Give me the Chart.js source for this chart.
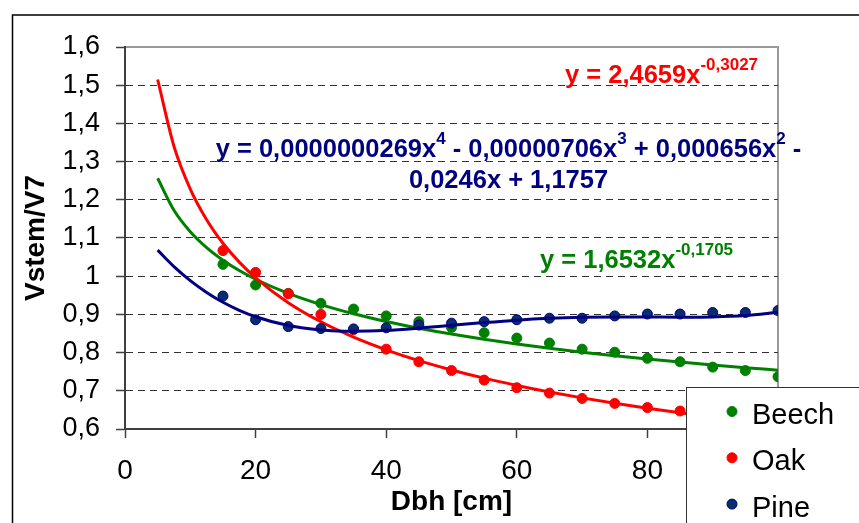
<!DOCTYPE html>
<html>
<head>
<meta charset="utf-8">
<title>Vstem/V7</title>
<script src="https://cdn.jsdelivr.net/npm/chart.js@4.4.0/dist/chart.umd.min.js"></script>
<style>
  body { margin: 0; background: #fff; }
  #grafico { display: block; }
</style>
</head>
<body>
<canvas id="grafico" width="859" height="523"></canvas>
<script>
// Dados medidos (Dbh em cm)
const dbh = [15, 20, 25, 30, 35, 40, 45, 50, 55, 60, 65, 70, 75, 80, 85, 90, 95, 100];
const beech = [1.031, 0.977, 0.955, 0.929, 0.914, 0.896, 0.881, 0.866, 0.852, 0.838, 0.825, 0.809, 0.801, 0.785, 0.776, 0.762, 0.753, 0.737];
const oak = [1.067, 1.010, 0.954, 0.900, 0.860, 0.809, 0.776, 0.753, 0.728, 0.708, 0.694, 0.680, 0.667, 0.656, 0.647, 0.638, 0.630, 0.622];
const pine = [0.948, 0.886, 0.868, 0.863, 0.862, 0.865, 0.872, 0.877, 0.881, 0.886, 0.890, 0.890, 0.896, 0.901, 0.901, 0.905, 0.905, 0.910];

// Linhas de tendencia
const dbhTend = [5, 7.5, 10, 12.5, 15, 17.5, 20, 25, 30, 35, 40, 45, 50, 55, 60, 65, 70, 75, 80, 85, 90, 95, 100];
const beechTend = [1.2565, 1.1726, 1.1164, 1.0748, 1.0419, 1.0148, 0.9920, 0.9549, 0.9257, 0.9017, 0.8814, 0.8639, 0.8485, 0.8348, 0.8225, 0.8114, 0.8012, 0.7918, 0.7831, 0.7751, 0.7676, 0.7605, 0.7539];
const oakTend = [1.5149, 1.3400, 1.2282, 1.1480, 1.0863, 1.0368, 0.9958, 0.9307, 0.8807, 0.8406, 0.8073, 0.7790, 0.7546, 0.7331, 0.7141, 0.6970, 0.6815, 0.6674, 0.6545, 0.6426, 0.6316, 0.6213, 0.6118];
const pineTend = [1.0682, 1.0252, 0.9885, 0.9576, 0.9318, 0.9108, 0.8939, 0.8709, 0.8593, 0.8560, 0.8583, 0.8641, 0.8713, 0.8786, 0.8850, 0.8896, 0.8924, 0.8934, 0.8932, 0.8928, 0.8935, 0.8971, 0.9057];

const xTicks = [0, 20, 40, 60, 80, 100];
const yTicks = [0.6, 0.7, 0.8, 0.9, 1.0, 1.1, 1.2, 1.3, 1.4, 1.5, 1.6];

const FONTE = "'Liberation Sans', Arial, sans-serif";
const VERDE = '#008000';
const VERMELHO = '#ff0000';
const AZUL = '#000080';

function pares(xs, ys) {
    return xs.map((x, i) => ({ x: x, y: ys[i] }));
}

function pontos(label, ys, cor, borda, ordem) {
    return {
        label: label,
        data: pares(dbh, ys),
        showLine: false,
        pointRadius: 5,
        pointBorderWidth: 1,
        pointBackgroundColor: cor,
        pointBorderColor: borda,
        order: ordem
    };
}

function tendencia(ys, cor, ordem) {
    return {
        data: pares(dbhTend, ys),
        showLine: true,
        borderColor: cor,
        borderWidth: 3,
        pointRadius: 0,
        cubicInterpolationMode: 'monotone',
        order: ordem
    };
}

// texto com expoentes
function escreve(ctx, partes, x, y, cor, centro) {
    let largura = 0;
    partes.forEach(p => {
        ctx.font = p[1] ? 'bold 17px ' + FONTE : 'bold 25.5px ' + FONTE;
        largura += ctx.measureText(p[0]).width;
    });
    if (centro) x -= largura / 2;
    ctx.fillStyle = cor;
    ctx.textAlign = 'left';
    ctx.textBaseline = 'alphabetic';
    partes.forEach(p => {
        ctx.font = p[1] ? 'bold 17px ' + FONTE : 'bold 25.5px ' + FONTE;
        ctx.fillText(p[0], x, p[1] ? y - 13.5 : y);
        x += ctx.measureText(p[0]).width;
    });
}

const extras = {
    id: 'extras',
    beforeDraw(chart) {
        const ctx = chart.ctx;
        ctx.save();
        ctx.fillStyle = '#fff';
        ctx.fillRect(0, 0, chart.width, chart.height);
        ctx.strokeStyle = '#000';
        ctx.lineWidth = 1.5;
        ctx.beginPath();
        ctx.moveTo(12.5, chart.height);
        ctx.lineTo(12.5, 15);
        ctx.lineTo(chart.width, 15);
        ctx.stroke();
        // borda cinza do plot
        const a = chart.chartArea;
        ctx.strokeStyle = '#999';
        ctx.lineWidth = 2;
        ctx.beginPath();
        ctx.moveTo(a.left, a.top);
        ctx.lineTo(a.right, a.top);
        ctx.lineTo(a.right, a.bottom);
        ctx.stroke();
        ctx.restore();
    },
    afterDraw(chart) {
        const ctx = chart.ctx;
        ctx.save();
        escreve(ctx, [['y = 2,4659x', false], ['-0,3027', true]], 565, 83, VERMELHO, false);
        escreve(ctx, [['y = 0,0000000269x', false], ['4', true], [' - 0,00000706x', false], ['3', true],
            [' + 0,000656x', false], ['2', true], [' -', false]], 508.5, 157, AZUL, true);
        escreve(ctx, [['0,0246x + 1,1757', false]], 508.5, 188, AZUL, true);
        escreve(ctx, [['y = 1,6532x', false], ['-0,1705', true]], 540, 268, VERDE, false);

        // legenda
        ctx.fillStyle = '#fff';
        ctx.fillRect(686, 387, 200, 200);
        ctx.strokeStyle = '#333';
        ctx.lineWidth = 1;
        ctx.strokeRect(686.5, 387.5, 200, 200);
        const itens = [['Beech', VERDE, VERDE], ['Oak', VERMELHO, VERMELHO], ['Pine', '#0a2d6e', AZUL]];
        ctx.font = '29px ' + FONTE;
        ctx.textBaseline = 'alphabetic';
        itens.forEach((it, i) => {
            const base = 424 + i * 46.3;
            ctx.beginPath();
            ctx.arc(732, base - 12.5, 5, 0, Math.PI * 2);
            ctx.fillStyle = it[1];
            ctx.fill();
            ctx.strokeStyle = it[2];
            ctx.stroke();
            ctx.fillStyle = '#000';
            ctx.fillText(it[0], 752, base);
        });
        ctx.restore();
    }
};

Chart.defaults.font.family = FONTE;
Chart.defaults.color = '#000';

const semBorda = v => Math.abs(v - 0.6) < 1e-6 || Math.abs(v - 1.6) < 1e-6;

new Chart(document.getElementById('grafico'), {
    type: 'scatter',
    data: {
        datasets: [
            pontos('Beech', beech, VERDE, VERDE, 6),
            tendencia(beechTend, VERDE, 5),
            pontos('Oak', oak, VERMELHO, VERMELHO, 4),
            tendencia(oakTend, VERMELHO, 3),
            pontos('Pine', pine, '#0a2d6e', AZUL, 2),
            tendencia(pineTend, AZUL, 1)
        ]
    },
    options: {
        responsive: false,
        animation: false,
        layout: { padding: { top: 47, right: 81, left: 0, bottom: 0 } },
        plugins: { legend: { display: false }, tooltip: { enabled: false } },
        scales: {
            x: {
                type: 'linear',
                min: 0,
                max: 100,
                afterBuildTicks: s => { s.ticks = xTicks.map(v => ({ value: v })); },
                afterFit: s => { s.height = 94; },
                grid: { drawOnChartArea: false, tickLength: 9, tickColor: '#404040', tickWidth: 1.5 },
                border: { color: '#404040', width: 2 },
                ticks: { font: { size: 28 }, padding: 16, color: '#000' },
                title: { display: true, text: 'Dbh [cm]', font: { size: 28, weight: 'bold' }, color: '#000', padding: { top: 0, bottom: 4 } }
            },
            y: {
                type: 'linear',
                min: 0.6,
                max: 1.6,
                afterBuildTicks: s => { s.ticks = yTicks.map(v => ({ value: v })); },
                afterFit: s => { s.width = 125; },
                grid: {
                    color: c => semBorda(c.tick.value) ? 'rgba(0,0,0,0)' : '#333',
                    tickBorderDash: [],
                    tickLength: 9,
                    tickColor: '#404040',
                    tickWidth: 1.5
                },
                border: { color: '#404040', width: 2, dash: [7, 5] },
                ticks: {
                    font: { size: 27 },
                    padding: 16,
                    color: '#000',
                    callback: v => String(Math.round(v * 10) / 10).replace('.', ',')
                },
                title: { display: true, text: 'Vstem/V7', font: { size: 28, weight: 'bold' }, color: '#000', padding: { top: 19, bottom: 0 } }
            }
        }
    },
    plugins: [extras]
});
</script>
</body>
</html>
